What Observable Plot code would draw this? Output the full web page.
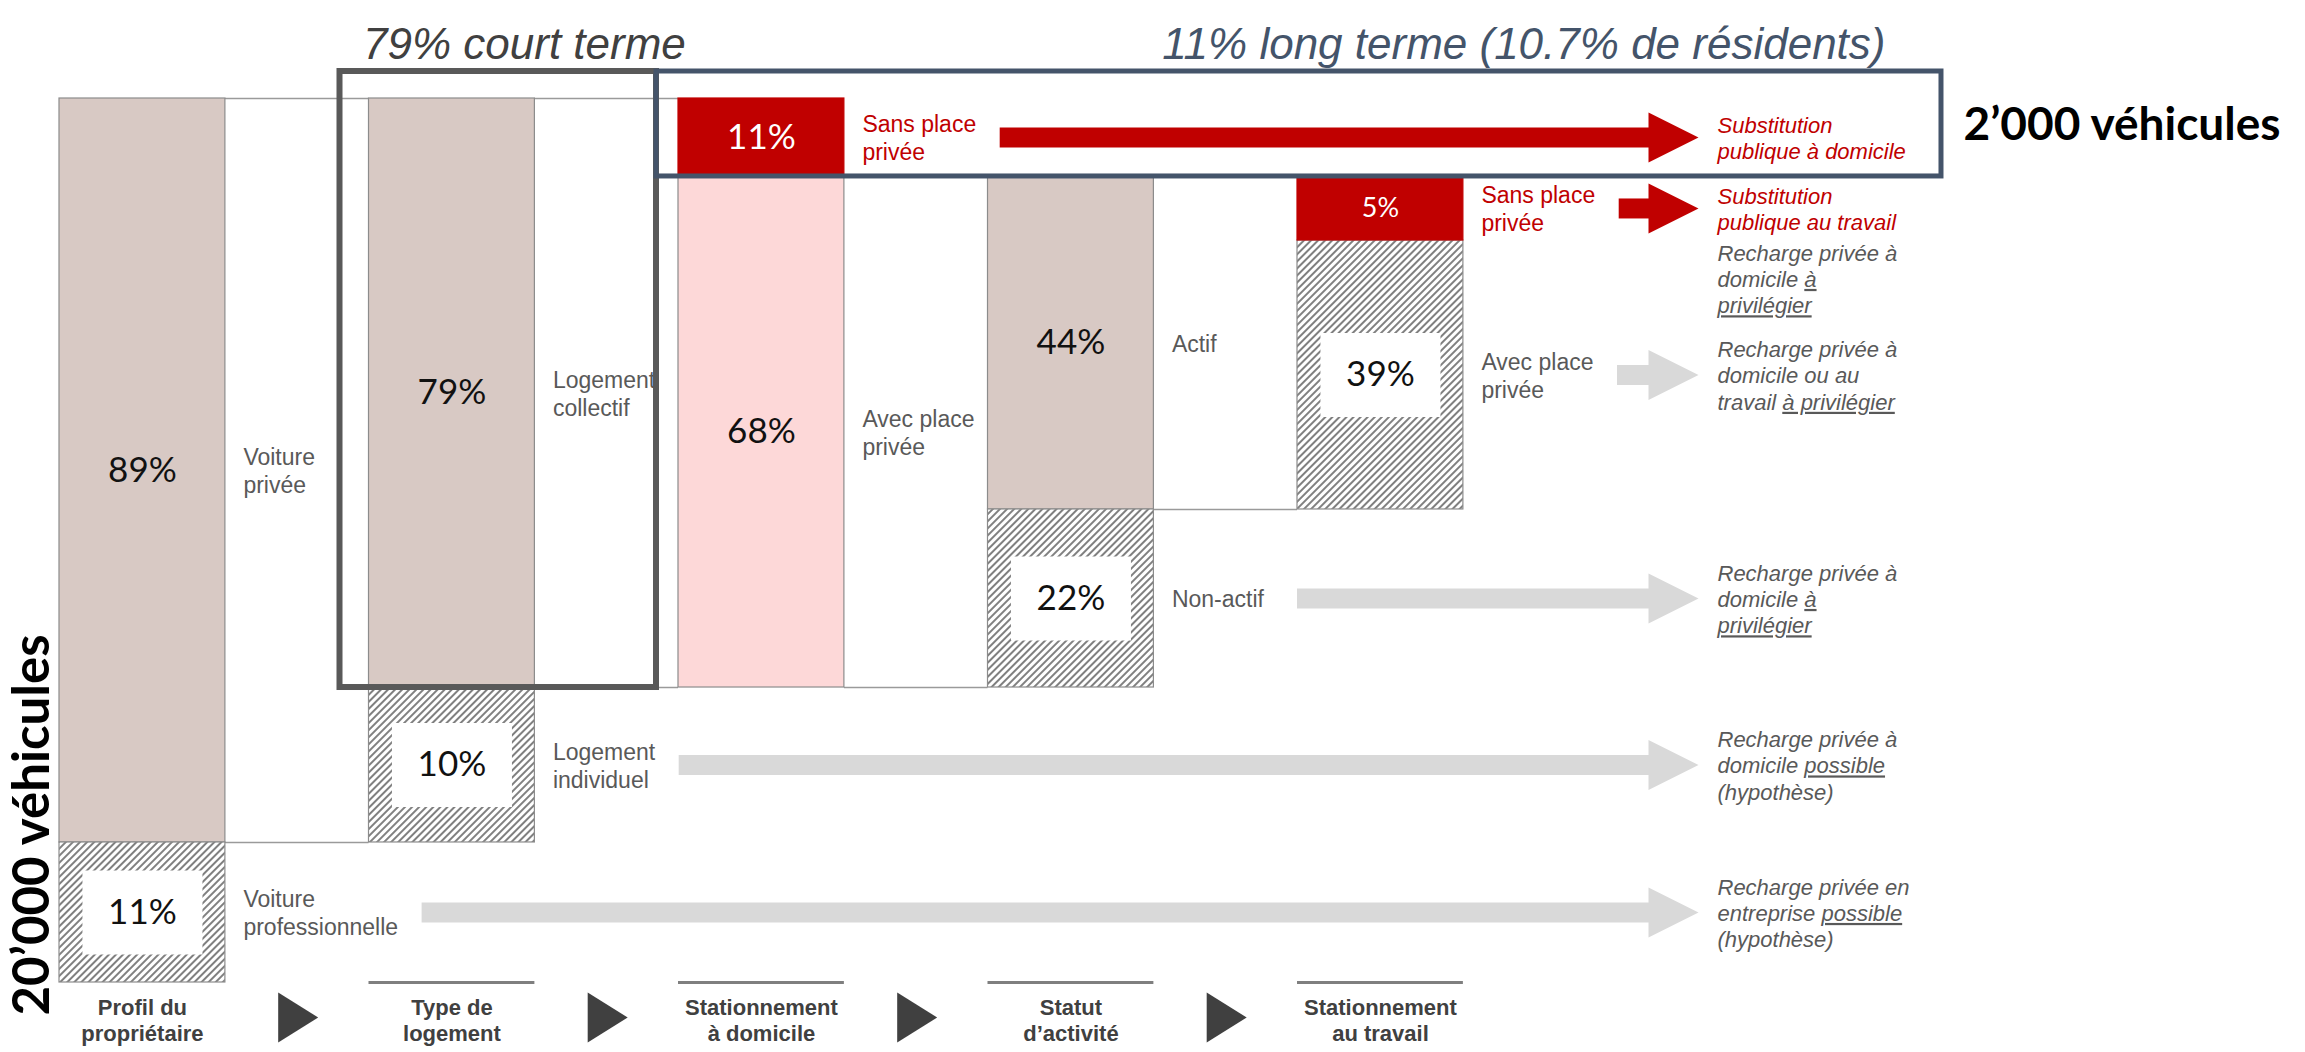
<!DOCTYPE html>
<html><head><meta charset="utf-8">
<script src="https://cdn.jsdelivr.net/npm/d3@7"></script>
<script src="https://cdn.jsdelivr.net/npm/@observablehq/plot@0.6"></script>
<style>
body{margin:0;background:#fff;}
#chart svg{display:block;}
</style>
</head><body>
<svg width="0" height="0" style="position:absolute">
  <defs>
    <pattern id="hatch" width="5" height="5" patternUnits="userSpaceOnUse" patternTransform="rotate(45)">
      <rect width="5" height="5" fill="#ffffff"></rect>
      <line x1="2" y1="0" x2="2" y2="5" stroke="#555555" stroke-width="1.5"></line>
    </pattern>
  </defs>
</svg>
<div id="chart"></div>
<script>
// ---------------- DATA ----------------
const stages = ["Profil du\npropriétaire", "Type de\nlogement", "Stationnement\nà domicile", "Statut\nd’activité", "Stationnement\nau travail"];

const segStage  = [0, 0, 1, 1, 2, 2, 3, 3, 4, 4];
const segLabel  = ["Voiture\nprivée", "Voiture\nprofessionnelle", "Logement\ncollectif", "Logement\nindividuel",
                   "Sans place\nprivée", "Avec place\nprivée", "Actif", "Non-actif", "Sans place\nprivée", "Avec place\nprivée"];
const segPct    = [89, 11, 79, 10, 11, 68, 44, 22, 5, 39];
const segParent = [null, null, 0, 0, 2, 2, 5, 5, 6, 6];
const segGroup  = ["suite", "autre", "suite", "autre", "public", "domicile", "suite", "autre", "public", "autre"];

const outcomeSeg  = [1, 3, 4, 7, 8, 9];
const outcomeText = [
  "Recharge privée en\nentreprise _possible_\n(hypothèse)",
  "Recharge privée à\ndomicile _possible_\n(hypothèse)",
  "Substitution\npublique à domicile",
  "Recharge privée à\ndomicile _à_\n_privilégier_",
  "Substitution\npublique au travail",
  "Recharge privée à\ndomicile ou au\ntravail _à privilégier_"
];
const outcomeType = ["privée", "privée", "publique", "privée", "publique", "privée"];
const noteSeg  = [8];
const noteText = ["Recharge privée à\ndomicile _à_\n_privilégier_"];

const highlightSeg  = [2, 4];
const highlightText = ["79% court terme", "11% long terme (10.7% de résidents)"];
const fleetTotal    = "20’000 véhicules";
const longTermTotal = "2’000 véhicules";

// ---------------- LAYOUT ----------------
const W = 2305, H = 1052;
const colW = 0.536;          // bar width, in column units
const outcomeCol = 5.357;    // where outcome texts start, in column units
const xOpts = {domain: [0, 4], range: [59, 1297]};
const yTop = 98, yBot = 982;
// the diagram is not drawn to scale: share of the height given to each band between breakpoints
const yWarpStops = [0, 8.82, 16.06, 46.49, 66.63, 84.16, 100];
const labelSize = 23, outcomeSize = 22;

const segments = segPct.map((pct, i) => ({id: i, stage: segStage[i], label: segLabel[i], pct, parent: segParent[i], group: segGroup[i]}));
const lastChild = new Map();
segments.forEach(s => lastChild.set(s.parent, s.id));
const cursor = new Map();
for (const s of segments) {
  const p = s.parent == null ? null : segments[s.parent];
  const start = cursor.has(s.parent) ? cursor.get(s.parent) : (p ? p.y0 : 0);
  s.y0 = start;
  s.y1 = (p && lastChild.get(s.parent) === s.id) ? p.y1 : start + s.pct;
  cursor.set(s.parent, s.y1);
}
const yBreaks = Array.from(new Set(segments.flatMap(s => [s.y0, s.y1]))).sort((a, b) => a - b);
const warp = d3.scaleLinear().domain(yBreaks).range(yWarpStops);
const yOpts = {type: "linear", domain: [0, 100], range: [yTop, yBot], transform: v => warp(v)};
for (const s of segments) {
  const a = warp(s.y0), b = warp(s.y1);
  s.ym = warp.invert((a + b) / 2);
  s.hpx = (b - a) * (yBot - yTop) / 100;
}
const yBottom = yBreaks[yBreaks.length - 1];

const fills = {suite: "#d8c9c4", autre: "url(#hatch)", public: "#c00000", domicile: "#fdd8d8"};

// arrow start after side label
const ctx = document.createElement("canvas").getContext("2d");
ctx.font = labelSize + "px 'Liberation Sans'";
const xPx = d3.scaleLinear().domain(xOpts.domain).range(xOpts.range);
function labelEnd(s) {
  const w = Math.max(...s.label.split("\n").map(l => ctx.measureText(l).width));
  return xPx(s.stage + colW) + 18 + w;
}
const arrows = outcomeSeg.map((si, k) => {
  const s = segments[si];
  return {seg: s, type: outcomeType[k], text: outcomeText[k], y: s.ym,
          x1: Math.max(s.stage + 1, xPx.invert(labelEnd(s) + 24))};
});
const notes = noteSeg.map((si, k) => ({seg: segments[si], text: noteText[k], y: segments[si].ym}));

// connectors between columns
const connectors = [];
for (let st = 1; st < stages.length; st++) {
  const ch = segments.filter(s => s.stage === st);
  const top = d3.min(ch, s => s.y0), bot = d3.max(ch, s => s.y1);
  connectors.push({y: top, x1: st - 1 + colW, x2: st}, {y: bot, x1: st - 1 + colW, x2: st});
}
const stageIdx = stages.map((s, i) => i);
const stageBase = stageIdx.filter(i => d3.max(segments.filter(s => s.stage === i), s => s.y1) < yBottom);

const headSym = {draw(c) { c.moveTo(-50, -25); c.lineTo(0, 0); c.lineTo(-50, 25); c.closePath(); }};
const triSym  = {draw(c) { c.moveTo(-19, -25); c.lineTo(21, 0); c.lineTo(-19, 25); c.closePath(); }};
const boxSym  = {draw(c) { c.rect(-60, -42, 120, 84); }};

const hl = highlightSeg.map((si, k) => ({seg: segments[si], text: highlightText[k]}));

const plot = Plot.plot({
  width: W, height: H, margin: 0,
  x: {...xOpts, axis: null},
  y: {...yOpts, axis: null},
  color: {type: "identity"},
  style: {background: "white", fontFamily: "'Liberation Sans', Arial, sans-serif"},
  marks: [
    Plot.ruleY(connectors, {y: "y", x1: "x1", x2: "x2", stroke: "#9a9a9a", strokeWidth: 1.5}),
    Plot.ruleY(stageBase, {y: yBottom, x1: i => i, x2: i => i + colW, stroke: "#7f7f7f", strokeWidth: 3}),
    ...Object.entries(fills).map(([g, f]) =>
      Plot.rect(segments.filter(s => s.group === g), {
        x1: s => s.stage, x2: s => s.stage + colW, y1: "y0", y2: "y1",
        fill: f, stroke: g === "public" ? "#c00000" : "#8c8c8c", strokeWidth: 1.2
      })),
    Plot.dot(segments.filter(s => s.group === "autre"), {x: s => s.stage + colW / 2, y: "ym", symbol: boxSym, fill: "white", stroke: "none"}),
    Plot.text(segments, {
      x: s => s.stage + colW / 2, y: "ym", text: s => s.pct + "%",
      fill: s => s.group === "public" ? "#ffffff" : "#111111",
      fontSize: s => s.hpx < 70 ? 27 : 35, fontFamily: "Lato"
    }),
    Plot.text(segments, {
      x: s => s.stage + colW, y: "ym", text: "label", textAnchor: "start", dx: 18,
      fill: s => s.group === "public" ? "#c00000" : "#595959", fontSize: labelSize, lineHeight: 1.22
    }),
    Plot.ruleY(arrows, {y: "y", x1: "x1", x2: outcomeCol, insetRight: 67, strokeWidth: 20,
      stroke: d => d.type === "publique" ? "#c00000" : "#d9d9d9"}),
    Plot.dot(arrows, {x: outcomeCol, y: "y", dx: -19, symbol: headSym, stroke: "none",
      fill: d => d.type === "publique" ? "#c00000" : "#d9d9d9"}),
    Plot.text(arrows, {x: outcomeCol, y: "y", text: "text", textAnchor: "start", fontStyle: "italic",
      fontSize: outcomeSize, lineHeight: 1.2, fill: d => d.type === "publique" ? "#c00000" : "#595959"}),
    Plot.text(notes, {x: outcomeCol, y: "y", dy: 70, text: "text", textAnchor: "start", fontStyle: "italic",
      fontSize: outcomeSize, lineHeight: 1.2, fill: "#595959"}),
    // highlight boxes
    Plot.rect([hl[0]], {x1: d => d.seg.stage, x2: d => d.seg.stage + 1, y1: d => d.seg.y0, y2: d => d.seg.y1,
      fill: "none", stroke: "#595959", strokeWidth: 6, insetLeft: -29, insetRight: 22, insetTop: -27}),
    Plot.rect([hl[1]], {x1: d => d.seg.stage, x2: outcomeCol, y1: d => d.seg.y0, y2: d => d.seg.y1,
      fill: "none", stroke: "#44546a", strokeWidth: 5, insetLeft: -22, insetRight: -224, insetTop: -27}),
    Plot.text([hl[0]], {x: d => d.seg.stage, y: d => d.seg.y0, dx: -6, dy: -54, text: "text",
      textAnchor: "start", fontStyle: "italic", fontSize: 44, fill: "#404040"}),
    Plot.text([hl[1]], {x: outcomeCol, y: d => d.seg.y0, dx: 168, dy: -54, text: "text",
      textAnchor: "end", fontStyle: "italic", fontSize: 44, fill: "#44546a"}),
    Plot.text([longTermTotal], {x: outcomeCol, y: segments[highlightSeg[1]].ym, dx: 246, dy: -12, text: d => d,
      textAnchor: "start", fontWeight: "bold", fontSize: 46, fontFamily: "Lato", fill: "#000000"}),
    Plot.text([fleetTotal], {x: 0, y: yBottom, dx: -27, dy: 33, rotate: -90, text: d => d,
      textAnchor: "start", fontWeight: "bold", fontSize: 51, fontFamily: "Lato", fill: "#000000"}),
    // stage axis
    Plot.text(stages, {x: (d, i) => i + colW / 2, y: yBottom, text: d => d, lineAnchor: "top", dy: 15,
      fontWeight: "bold", fontSize: 22, lineHeight: 1.15, fill: "#404040"}),
    Plot.dot(d3.range(stages.length - 1), {x: i => i + colW + (1 - colW) / 2, y: yBottom, dy: 35,
      symbol: triSym, fill: "#404040", stroke: "none"})
  ]
});
document.getElementById("chart").append(plot);

// underline the parts marked with _..._
const NS = "http://www.w3.org/2000/svg";
function underline(node) {
  const parts = node.textContent.split("_");
  while (node.firstChild) node.removeChild(node.firstChild);
  parts.forEach((p, i) => {
    if (!p) return;
    const t = document.createElementNS(NS, "tspan");
    t.textContent = p;
    if (i % 2 === 1) t.setAttribute("text-decoration", "underline");
    node.appendChild(t);
  });
}
plot.querySelectorAll("text").forEach(t => {
  if (!t.textContent.includes("_")) return;
  const spans = t.querySelectorAll("tspan");
  if (spans.length) spans.forEach(s => { if (s.textContent.includes("_")) underline(s); });
  else underline(t);
});
</script>
</body></html>
